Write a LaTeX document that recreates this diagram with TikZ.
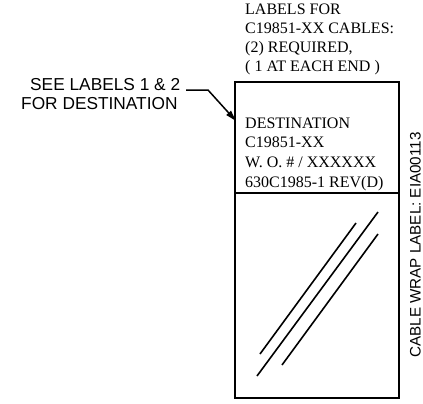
\documentclass[tikz,border=0pt]{standalone}
\usepackage{fontspec}
\setmainfont{Liberation Serif}
\setsansfont{Liberation Sans}
\usetikzlibrary{arrows.meta}
\tikzset{
  serif/.style={inner sep=0pt, anchor=base west, font=\fontsize{16}{19}\selectfont},
  sanslbl/.style={inner sep=0pt, anchor=base west, font=\sffamily\fontsize{17.3}{18}\selectfont},
  boxline/.style={line width=1.8pt},
  hatch/.style={line width=1.6pt},
  leader/.style={line width=1.5pt, -{Triangle[length=11pt,width=6pt]}}
}
\begin{document}
\begin{tikzpicture}[x=1pt,y=-1pt]
\useasboundingbox (0,0) rectangle (423,404);
% title text
\node[serif] (t1) at (245,15) {LABELS FOR};
\node[serif] (t2) at (245,34) {C19851-XX CABLES:};
\node[serif] (t3) at (245,53) {(2) REQUIRED,};
\node[serif] (t4) at (245,72) {( 1 AT EACH END )};
% box
\coordinate (tl) at (235,82);
\coordinate (br) at (399,398);
\draw[boxline] (tl) rectangle (br);
\draw[boxline] (235,193) -- (399,193);
% box text
\node[serif] (d1) at (245,128) {DESTINATION};
\node[serif] (d2) at (245,147) {C19851-XX};
\node[serif] (d3) at (245,167) {W. O. \# / XXXXXX};
\node[serif] (d4) at (245,187) {630C1985-1 REV(D)};
% left label
\node[sanslbl] (s1) at (30,91) {SEE LABELS 1 \& 2};
\node[sanslbl] (s2) at (21,109) {FOR DESTINATION};
\coordinate (ls) at (186,90);
\coordinate (lc) at (208,90);
\coordinate (lt) at (236,121);
\draw[leader] (ls) -- (lc) -- (lt);
% hatch lines
\coordinate (a1) at (260,354); \coordinate (b1) at (356,223);
\coordinate (a2) at (257,376); \coordinate (b2) at (378,212);
\coordinate (a3) at (282,365); \coordinate (b3) at (378,234);
\draw[hatch] (a1) -- (b1);
\draw[hatch] (a2) -- (b2);
\draw[hatch] (a3) -- (b3);
% rotated label
\node[inner sep=0pt, rotate=90, anchor=base, font=\sffamily\fontsize{15.2}{18}\selectfont] (rl) at (420.5,245) {CABLE WRAP LABEL: EIA00113};
\end{tikzpicture}
\end{document}
